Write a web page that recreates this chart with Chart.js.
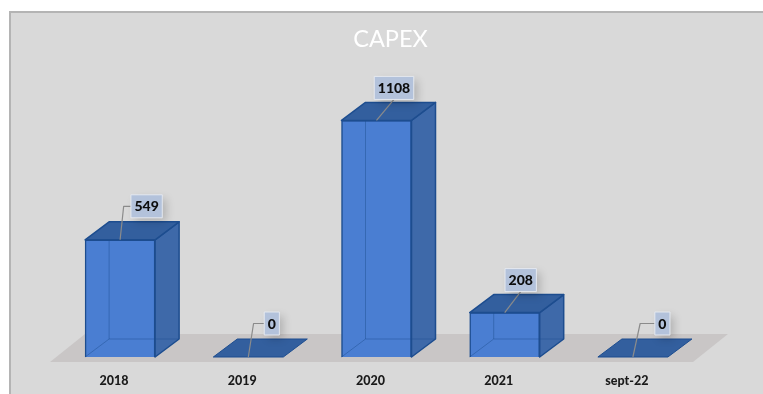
<!DOCTYPE html>
<html>
<head>
<meta charset="utf-8">
<title>CAPEX</title>
<script src="https://cdn.jsdelivr.net/npm/chart.js@4/dist/chart.umd.js"></script>
<style>
  html, body { margin: 0; padding: 0; background: #fff; overflow: hidden; }
  #box { position: absolute; left: 9px; top: 11px; width: 754px; height: 383px; overflow: hidden;
         background: #d9d9d9; border-top: 2px solid #b4b4b4; border-left: 2px solid #b4b4b4; box-sizing: border-box; }
  #chart { position: absolute; left: -2px; top: -2px; }
</style>
</head>
<body>
<div id="box"><canvas id="chart" width="763" height="383" style="width:763px;height:383px"></canvas></div>
<script>
// Datos del grafico
const years = ['2018', '2019', '2020', '2021', 'sept-22'];
const capex = [549, 0, 1108, 208, 0];

// Desplazamiento de cada etiqueta respecto a la cara frontal de su barra
const labelOffsetX = [26.5, 23.5, 17.5, 16, 29.5];
const labelOffsetY = [-33.5, -33.5, -32.5, -32.5, -33.5];

// Profundidad de la caja 3D
const depthX = 24;
const depthY = -18;

function poly(ctx, pts, fill, stroke, width) {
  ctx.beginPath();
  pts.forEach((p, i) => i ? ctx.lineTo(p[0], p[1]) : ctx.moveTo(p[0], p[1]));
  ctx.closePath();
  if (fill) { ctx.fillStyle = fill; ctx.fill(); }
  if (stroke) { ctx.strokeStyle = stroke; ctx.lineWidth = width || 1.5; ctx.lineJoin = 'round'; ctx.stroke(); }
}

// Piso gris debajo de las barras
const floorPlugin = {
  id: 'floor',
  beforeDatasetsDraw(chart) {
    const a = chart.chartArea, c = chart.ctx;
    poly(c, [[a.left - 6, a.bottom + 5], [a.left + 29, a.bottom - 23], [a.right + 31, a.bottom - 23], [a.right - 4, a.bottom + 5]], '#c9c6c6');
  }
};

// Caras lateral, superior y trasera de cada barra
const boxPlugin = {
  id: 'box3d',
  beforeDatasetsDraw(chart) {
    const c = chart.ctx;
    chart.getDatasetMeta(0).data.forEach((bar) => {
      const l = bar.x - bar.width / 2, r = bar.x + bar.width / 2, t = bar.y, b = bar.base;
      if (b - t < 1) return;
      // cara trasera y piso de la caja
      poly(c, [[l, b], [r, b], [r + depthX, b + depthY], [l + depthX, b + depthY]], '#3f74c6');
      poly(c, [[l + depthX, t + depthY], [r + depthX, t + depthY], [r + depthX, b + depthY], [l + depthX, b + depthY]], '#4274bf');
    });
  },
  afterDatasetsDraw(chart) {
    const c = chart.ctx, edge = '#1d4d8f';
    chart.getDatasetMeta(0).data.forEach((bar) => {
      const l = bar.x - bar.width / 2, r = bar.x + bar.width / 2, t = bar.y, b = bar.base;
      const flat = b - t < 1;
      if (!flat) {
        poly(c, [[r, t], [r + depthX, t + depthY], [r + depthX, b + depthY], [r, b]], '#3e69a9', edge);
        // aristas interiores vistas a traves de la caja
        c.strokeStyle = 'rgba(29,77,143,0.45)';
        c.lineWidth = 1;
        c.beginPath();
        c.moveTo(l + depthX, t + depthY);
        c.lineTo(l + depthX, b + depthY);
        c.lineTo(r + depthX, b + depthY);
        c.moveTo(l + depthX, b + depthY);
        c.lineTo(l, b);
        c.stroke();
      }
      poly(c, [[l, t], [r, t], [r + depthX, t + depthY], [l + depthX, t + depthY]], '#335f9e', edge, flat ? 1 : 1.5);
    });
  }
};

// Etiquetas de valor con su linea guia
const labelPlugin = {
  id: 'valueLabels',
  afterDraw(chart) {
    const c = chart.ctx;
    chart.getDatasetMeta(0).data.forEach((bar, i) => {
      const text = String(capex[i]);
      c.font = '900 14px Lato';
      const w = c.measureText(text).width + 7, h = 23;
      const cx = bar.x + labelOffsetX[i], cy = bar.y + labelOffsetY[i];
      const left = cx - w / 2, top = cy - h / 2;

      c.strokeStyle = '#8b8b8b';
      c.lineWidth = 1.2;
      c.beginPath();
      c.moveTo(bar.x, bar.y);
      if (labelOffsetX[i] > 20) {
        c.lineTo(bar.x + (left - bar.x) * 0.33, cy);
        c.lineTo(left, cy);
      } else {
        c.lineTo(cx, top + h);
      }
      c.stroke();

      c.save();
      c.shadowColor = 'rgba(0,0,0,0.18)';
      c.shadowBlur = 8;
      c.shadowOffsetX = 4;
      c.shadowOffsetY = 4;
      c.fillStyle = '#b3c2db';
      c.fillRect(left, top, w, h);
      c.restore();
      c.strokeStyle = '#e4e8ef';
      c.lineWidth = 1;
      c.strokeRect(left, top, w, h);

      c.fillStyle = '#0d0d0d';
      c.textAlign = 'center';
      c.textBaseline = 'middle';
      c.fillText(text, cx, cy + 0.5);
    });
  }
};

new Chart(document.getElementById('chart'), {
  type: 'bar',
  data: {
    labels: years,
    datasets: [{
      data: capex,
      backgroundColor: '#4a7ed2',
      borderColor: '#1d4d8f',
      borderWidth: 1.5,
      barThickness: 70
    }]
  },
  plugins: [floorPlugin, boxPlugin, labelPlugin],
  options: {
    responsive: false,
    animation: false,
    plugins: {
      legend: { display: false },
      tooltip: { enabled: false },
      title: {
        display: true,
        text: 'CAPEX',
        color: '#ffffff',
        font: { family: 'Lato', size: 23.5, weight: '400' },
        padding: { top: 14, bottom: 0 }
      }
    },
    scales: {
      x: {
        grid: { display: false },
        border: { display: false },
        afterFit(scale) { scale.height = 37; },
        ticks: { color: '#1a1a1a', padding: 8, labelOffset: -6, font: { family: 'Lato', size: 12.5, weight: '900' } }
      },
      // ejes sin dibujo: solo reservan los margenes del area de barras
      y: {
        min: 0,
        max: 1423,
        grid: { display: false },
        border: { display: false },
        ticks: { display: false },
        afterFit(scale) { scale.width = 47; }
      },
      margen: {
        position: 'right',
        grid: { display: false },
        border: { display: false },
        ticks: { display: false },
        afterFit(scale) { scale.width = 75; }
      }
    }
  }
});
</script>
</body>
</html>
